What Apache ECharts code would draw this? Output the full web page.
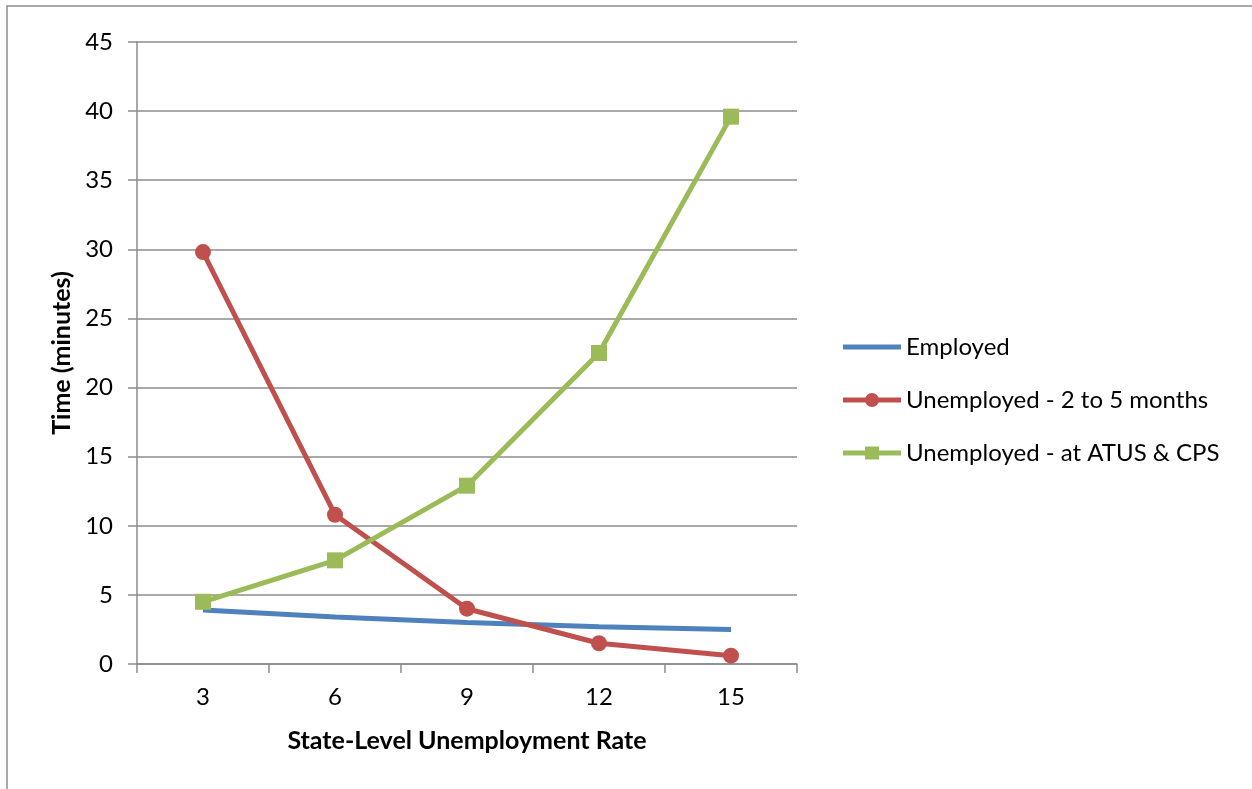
<!DOCTYPE html>
<html>
<head>
<meta charset="utf-8">
<script src="https://cdn.jsdelivr.net/npm/echarts@6/dist/echarts.min.js"></script>
<style>
  html, body { margin: 0; padding: 0; background: #fff; }
  #chart { width: 1252px; height: 789px; }
</style>
</head>
<body>
<div id="chart"></div>
<script>
// data
const rates = ["3", "6", "9", "12", "15"];
const employed = [3.9, 3.4, 3.0, 2.7, 2.5];
const unemp2to5 = [29.8, 10.8, 4.0, 1.5, 0.6];
const unempAtus = [4.5, 7.5, 12.9, 22.5, 39.6];
const seriesNames = ["Employed", "Unemployed - 2 to 5 months", "Unemployed - at ATUS & CPS"];

const font = "Lato, 'Open Sans', sans-serif";
const chart = echarts.init(document.getElementById("chart"));

// legend icons drawn as paths so the line stays thick like the Excel legend
const lineBar = "M0,6 L58,6 L58,11 L0,11 Z";
const iconLine = "path://M0,0 L58,0 L58,5 L0,5 Z";
const iconCircle = "path://" + lineBar + " M22,8.5 a7,7 0 1,1 14,0 a7,7 0 1,1 -14,0 Z";
const iconSquare = "path://" + lineBar + " M22,2 L36,2 L36,15 L22,15 Z";

chart.setOption({
  animation: false,
  textStyle: { fontFamily: font },
  graphic: [
    {
      type: "rect",
      shape: { x: 7, y: 6, width: 1400, height: 900 },
      style: { fill: "none", stroke: "#8c8c8c", lineWidth: 1.5 }
    }
  ],
  grid: { left: 137, right: 455, top: 42, bottom: 125 },
  legend: {
    orient: "vertical",
    left: 843,
    top: 335,
    padding: 0,
    itemWidth: 58,
    itemHeight: 17,
    itemGap: 29,
    textStyle: { fontSize: 24, color: "#000", fontFamily: font },
    data: [
      { name: seriesNames[0], icon: iconLine },
      { name: seriesNames[1], icon: iconCircle },
      { name: seriesNames[2], icon: iconSquare }
    ]
  },
  xAxis: {
    type: "category",
    data: rates,
    boundaryGap: true,
    name: "State-Level Unemployment Rate",
    nameLocation: "middle",
    nameGap: 64,
    nameTextStyle: { fontSize: 25, fontWeight: "bold", color: "#000" },
    axisLine: { lineStyle: { color: "#8c8c8c", width: 1.5 } },
    axisTick: { show: true, length: 9, lineStyle: { color: "#8c8c8c", width: 1.5 } },
    axisLabel: { fontSize: 24, color: "#000", margin: 21 }
  },
  yAxis: {
    type: "value",
    min: 0,
    max: 45,
    interval: 5,
    name: "Time (minutes)",
    nameLocation: "middle",
    nameGap: 59,
    nameTextStyle: { fontSize: 25, fontWeight: "bold", color: "#000" },
    axisLine: { show: true, lineStyle: { color: "#8c8c8c", width: 1.5 } },
    axisTick: { show: true, length: 9, lineStyle: { color: "#8c8c8c", width: 1.5 } },
    axisLabel: { fontSize: 24, color: "#000", margin: 24 },
    splitLine: { lineStyle: { color: "#8c8c8c", width: 1.5 } }
  },
  series: [
    {
      name: seriesNames[0],
      type: "line",
      data: employed,
      symbol: "none",
      lineStyle: { color: "#4F81BD", width: 5 },
      itemStyle: { color: "#4F81BD" }
    },
    {
      name: seriesNames[1],
      type: "line",
      data: unemp2to5,
      symbol: "circle",
      symbolSize: 16,
      lineStyle: { color: "#C0504D", width: 5 },
      itemStyle: { color: "#C0504D" }
    },
    {
      name: seriesNames[2],
      type: "line",
      data: unempAtus,
      symbol: "rect",
      symbolSize: 16,
      lineStyle: { color: "#9BBB59", width: 5 },
      itemStyle: { color: "#9BBB59" }
    }
  ]
});
</script>
</body>
</html>
